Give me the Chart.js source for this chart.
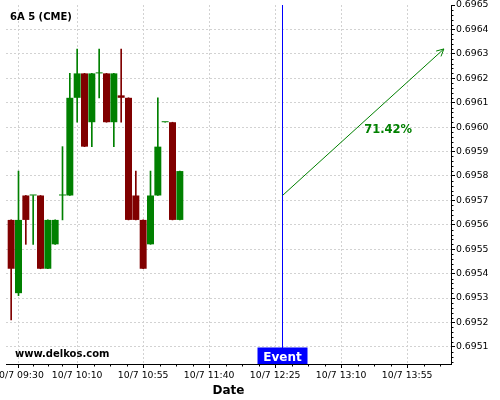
<!DOCTYPE html>
<html>
<head>
<meta charset="utf-8">
<script src="https://cdn.jsdelivr.net/npm/chart.js@4/dist/chart.umd.min.js"></script>
<style>
html, body { margin: 0; padding: 0; background: #fff; }
</style>
</head>
<body>
<canvas id="chart" width="500" height="400"></canvas>
<script>
// 5 minute candles, 10/7
var times  = ['09:25','09:30','09:35','09:40','09:45','09:50','09:55','10:00','10:05','10:10','10:15','10:20',
              '10:25','10:30','10:35','10:40','10:45','10:50','10:55','11:00','11:05','11:10','11:15','11:20'];
var opens  = [0.69562,0.69532,0.69572,0.69572,0.69572,0.69542,0.69552,0.69572,0.69572,0.69612,0.69622,0.69602,
              0.69622,0.69622,0.69602,0.69613,0.69612,0.69572,0.69562,0.69552,0.69572,0.69602,0.69602,0.69562];
var highs  = [0.69562,0.69582,0.69572,0.69572,0.69572,0.69562,0.69562,0.69592,0.69622,0.69632,0.69622,0.69622,
              0.69632,0.69622,0.69622,0.69632,0.69612,0.69582,0.69562,0.69582,0.69612,0.69602,0.69602,0.69582];
var lows   = [0.69521,0.69531,0.69552,0.69552,0.69542,0.69542,0.69552,0.69562,0.69572,0.69602,0.69592,0.69592,
              0.69612,0.69602,0.69592,0.69602,0.69562,0.69562,0.69542,0.69552,0.69572,0.69602,0.69562,0.69562];
var closes = [0.69542,0.69562,0.69562,0.69572,0.69542,0.69562,0.69562,0.69572,0.69612,0.69622,0.69592,0.69622,
              0.69622,0.69602,0.69622,0.69612,0.69562,0.69562,0.69542,0.69572,0.69592,0.69602,0.69562,0.69582];

var xTickTimes = ['09:30','10:10','10:55','11:40','12:25','13:10','13:55'];
var yTickValues = [0.6951,0.6952,0.6953,0.6954,0.6955,0.6956,0.6957,0.6958,0.6959,0.6960,0.6961,0.6962,0.6963,0.6964,0.6965];

var eventTime = '12:30';
var arrowStart = {time: '12:30', price: 0.69572};
var arrowEnd = {time: '14:20', price: 0.69632};
var probText = '71.42%';
var probAt = {time: '13:42', price: 0.69599};

var upColor = '#008000';
var downColor = '#800000';
var xMin = 561.48, xMax = 864.88;
var yMin = 0.69503, yMax = 0.6965;
var tickFont = {family: 'DejaVu Sans', size: 9.3};

function toMinutes(t) {
	var p = t.split(':');
	return parseInt(p[0], 10) * 60 + parseInt(p[1], 10);
}
function fmtTime(m) {
	var h = Math.floor(m / 60), mm = Math.round(m - h * 60);
	return (h < 10 ? '0' : '') + h + ':' + (mm < 10 ? '0' : '') + mm;
}

var candleX = times.map(toMinutes);
var candleColors = closes.map(function(c, i) { return c >= opens[i] ? upColor : downColor; });
var wickData = candleX.map(function(x, i) { return {x: x, y: [lows[i], highs[i]]}; });
var bodyData = candleX.map(function(x, i) { return {x: x, y: [opens[i], closes[i]]}; });

var overlay = {
	id: 'overlay',
	afterDatasetsDraw: function(chart) {
		var ctx = chart.ctx, xs = chart.scales.x, ys = chart.scales.y, area = chart.chartArea;

		// arrow head
		var pts = chart.getDatasetMeta(3).data;
		var a = pts[0], b = pts[pts.length - 1];
		var ang = Math.atan2(b.y - a.y, b.x - a.x);
		ctx.save();
		ctx.strokeStyle = upColor;
		ctx.lineWidth = 1;
		ctx.beginPath();
		ctx.moveTo(b.x - 8 * Math.cos(ang - 0.47), b.y - 8 * Math.sin(ang - 0.47));
		ctx.lineTo(b.x, b.y);
		ctx.lineTo(b.x - 8 * Math.cos(ang + 0.47), b.y - 8 * Math.sin(ang + 0.47));
		ctx.stroke();

		// probability
		ctx.fillStyle = upColor;
		ctx.font = 'bold 11.5px "DejaVu Sans"';
		ctx.textAlign = 'center';
		ctx.textBaseline = 'middle';
		ctx.fillText(probText, xs.getPixelForValue(toMinutes(probAt.time)), ys.getPixelForValue(probAt.price));

		// event label
		var ex = xs.getPixelForValue(toMinutes(eventTime));
		ctx.fillStyle = '#0000ff';
		ctx.fillRect(ex - 25, area.bottom - 16.5, 50, 16.5);
		ctx.fillStyle = '#ffffff';
		ctx.font = 'bold 12px "DejaVu Sans"';
		ctx.textBaseline = 'alphabetic';
		ctx.fillText('Event', ex, area.bottom - 3);
		ctx.restore();
	},
	afterDraw: function(chart) {
		var ctx = chart.ctx, xs = chart.scales.x, ys = chart.scales.y, area = chart.chartArea;
		ctx.save();
		ctx.strokeStyle = '#000';
		ctx.lineWidth = 1;
		ctx.beginPath();
		// minor ticks on y
		for (var v = Math.round(yMin * 50000) / 50000; v <= yMax + 1e-9; v += 0.00002) {
			var r = Math.round(v * 100000);
			if (r % 10 === 0 || v < yMin) continue;
			var py = Math.round(ys.getPixelForValue(v)) + 0.5;
			ctx.moveTo(area.right, py);
			ctx.lineTo(area.right + 2.5, py);
		}
		// minor ticks on x, quarters between labels
		var mt = xTickTimes.map(toMinutes);
		for (var i = 0; i < mt.length; i++) {
			var step = (i < mt.length - 1 ? mt[i + 1] : mt[i] + 45) - mt[i];
			for (var k = 1; k < 4; k++) {
				var m = mt[i] + step * k / 4;
				if (m > xMax) break;
				var px = Math.round(xs.getPixelForValue(m)) + 0.5;
				ctx.moveTo(px, area.bottom);
				ctx.lineTo(px, area.bottom + 2.5);
			}
		}
		ctx.stroke();

		ctx.fillStyle = '#000';
		ctx.textAlign = 'left';
		ctx.textBaseline = 'alphabetic';
		ctx.font = 'bold 10px "DejaVu Sans"';
		ctx.fillText('6A 5 (CME)', 10, 19.5);
		ctx.fillText('www.delkos.com', 15, 357);
		ctx.restore();
	}
};

var config = {
	type: 'bar',
	data: {
		datasets: [{
			type: 'bar',
			label: 'wick',
			data: wickData,
			backgroundColor: candleColors,
			barThickness: 1,
			grouped: false,
			order: 3
		}, {
			type: 'bar',
			label: 'body',
			data: bodyData,
			backgroundColor: candleColors,
			barPercentage: 0.95,
			categoryPercentage: 1,
			minBarLength: 1,
			grouped: false,
			order: 2
		}, {
			type: 'line',
			label: 'event',
			data: [{x: toMinutes(eventTime), y: yMax}, {x: toMinutes(eventTime), y: yMin}],
			borderColor: '#0000ff',
			borderWidth: 1,
			pointRadius: 0,
			order: 1
		}, {
			type: 'line',
			label: 'arrow',
			data: [{x: toMinutes(arrowStart.time), y: arrowStart.price}, {x: toMinutes(arrowEnd.time), y: arrowEnd.price}],
			borderColor: upColor,
			borderWidth: 1,
			pointRadius: 0,
			order: 0
		}]
	},
	options: {
		responsive: false,
		devicePixelRatio: 1,
		animation: false,
		layout: {padding: {left: 6, top: 5, right: 0, bottom: 0}},
		plugins: {
			legend: {display: false},
			tooltip: {enabled: false},
			title: {display: false}
		},
		scales: {
			x: {
				type: 'linear',
				position: 'bottom',
				min: xMin,
				max: xMax,
				offset: false,
				afterBuildTicks: function(scale) {
					scale.ticks = xTickTimes.map(function(t) { return {value: toMinutes(t)}; });
				},
				afterFit: function(scale) {
					scale.height = 36;
					scale.paddingLeft = 0;
					scale.paddingRight = 0;
				},
				ticks: {
					autoSkip: false,
					maxRotation: 0,
					minRotation: 0,
					padding: 2,
					color: '#000',
					font: tickFont,
					callback: function(v) { return '10/7 ' + fmtTime(v); }
				},
				grid: {offset: false, color: '#d2d2d2', lineWidth: 1, tickLength: 4, tickColor: '#000'},
				border: {display: true, color: '#000', width: 1, dash: [2, 2]},
				title: {
					display: true,
					text: 'Date',
					color: '#000',
					font: {family: 'DejaVu Sans', size: 12, weight: 'bold'},
					padding: {top: 0, bottom: 2}
				}
			},
			y: {
				type: 'linear',
				position: 'right',
				min: yMin,
				max: yMax,
				afterBuildTicks: function(scale) {
					scale.ticks = yTickValues.map(function(v) { return {value: v}; });
				},
				afterFit: function(scale) {
					scale.width = 49;
					scale.paddingTop = 0;
					scale.paddingBottom = 0;
				},
				ticks: {
					padding: 1,
					color: '#000',
					font: tickFont,
					callback: function(v) { return v.toFixed(4); }
				},
				grid: {
					color: function(c) { return c.tick && c.tick.value >= yMax ? 'rgba(0,0,0,0)' : '#d2d2d2'; },
					lineWidth: 1,
					tickLength: 4,
					tickColor: '#000'
				},
				border: {display: true, color: '#000', width: 1, dash: [2, 2]}
			}
		}
	},
	plugins: [overlay]
};

window.candle_chart = new Chart(document.getElementById('chart').getContext('2d'), config);
</script>
</body>
</html>
